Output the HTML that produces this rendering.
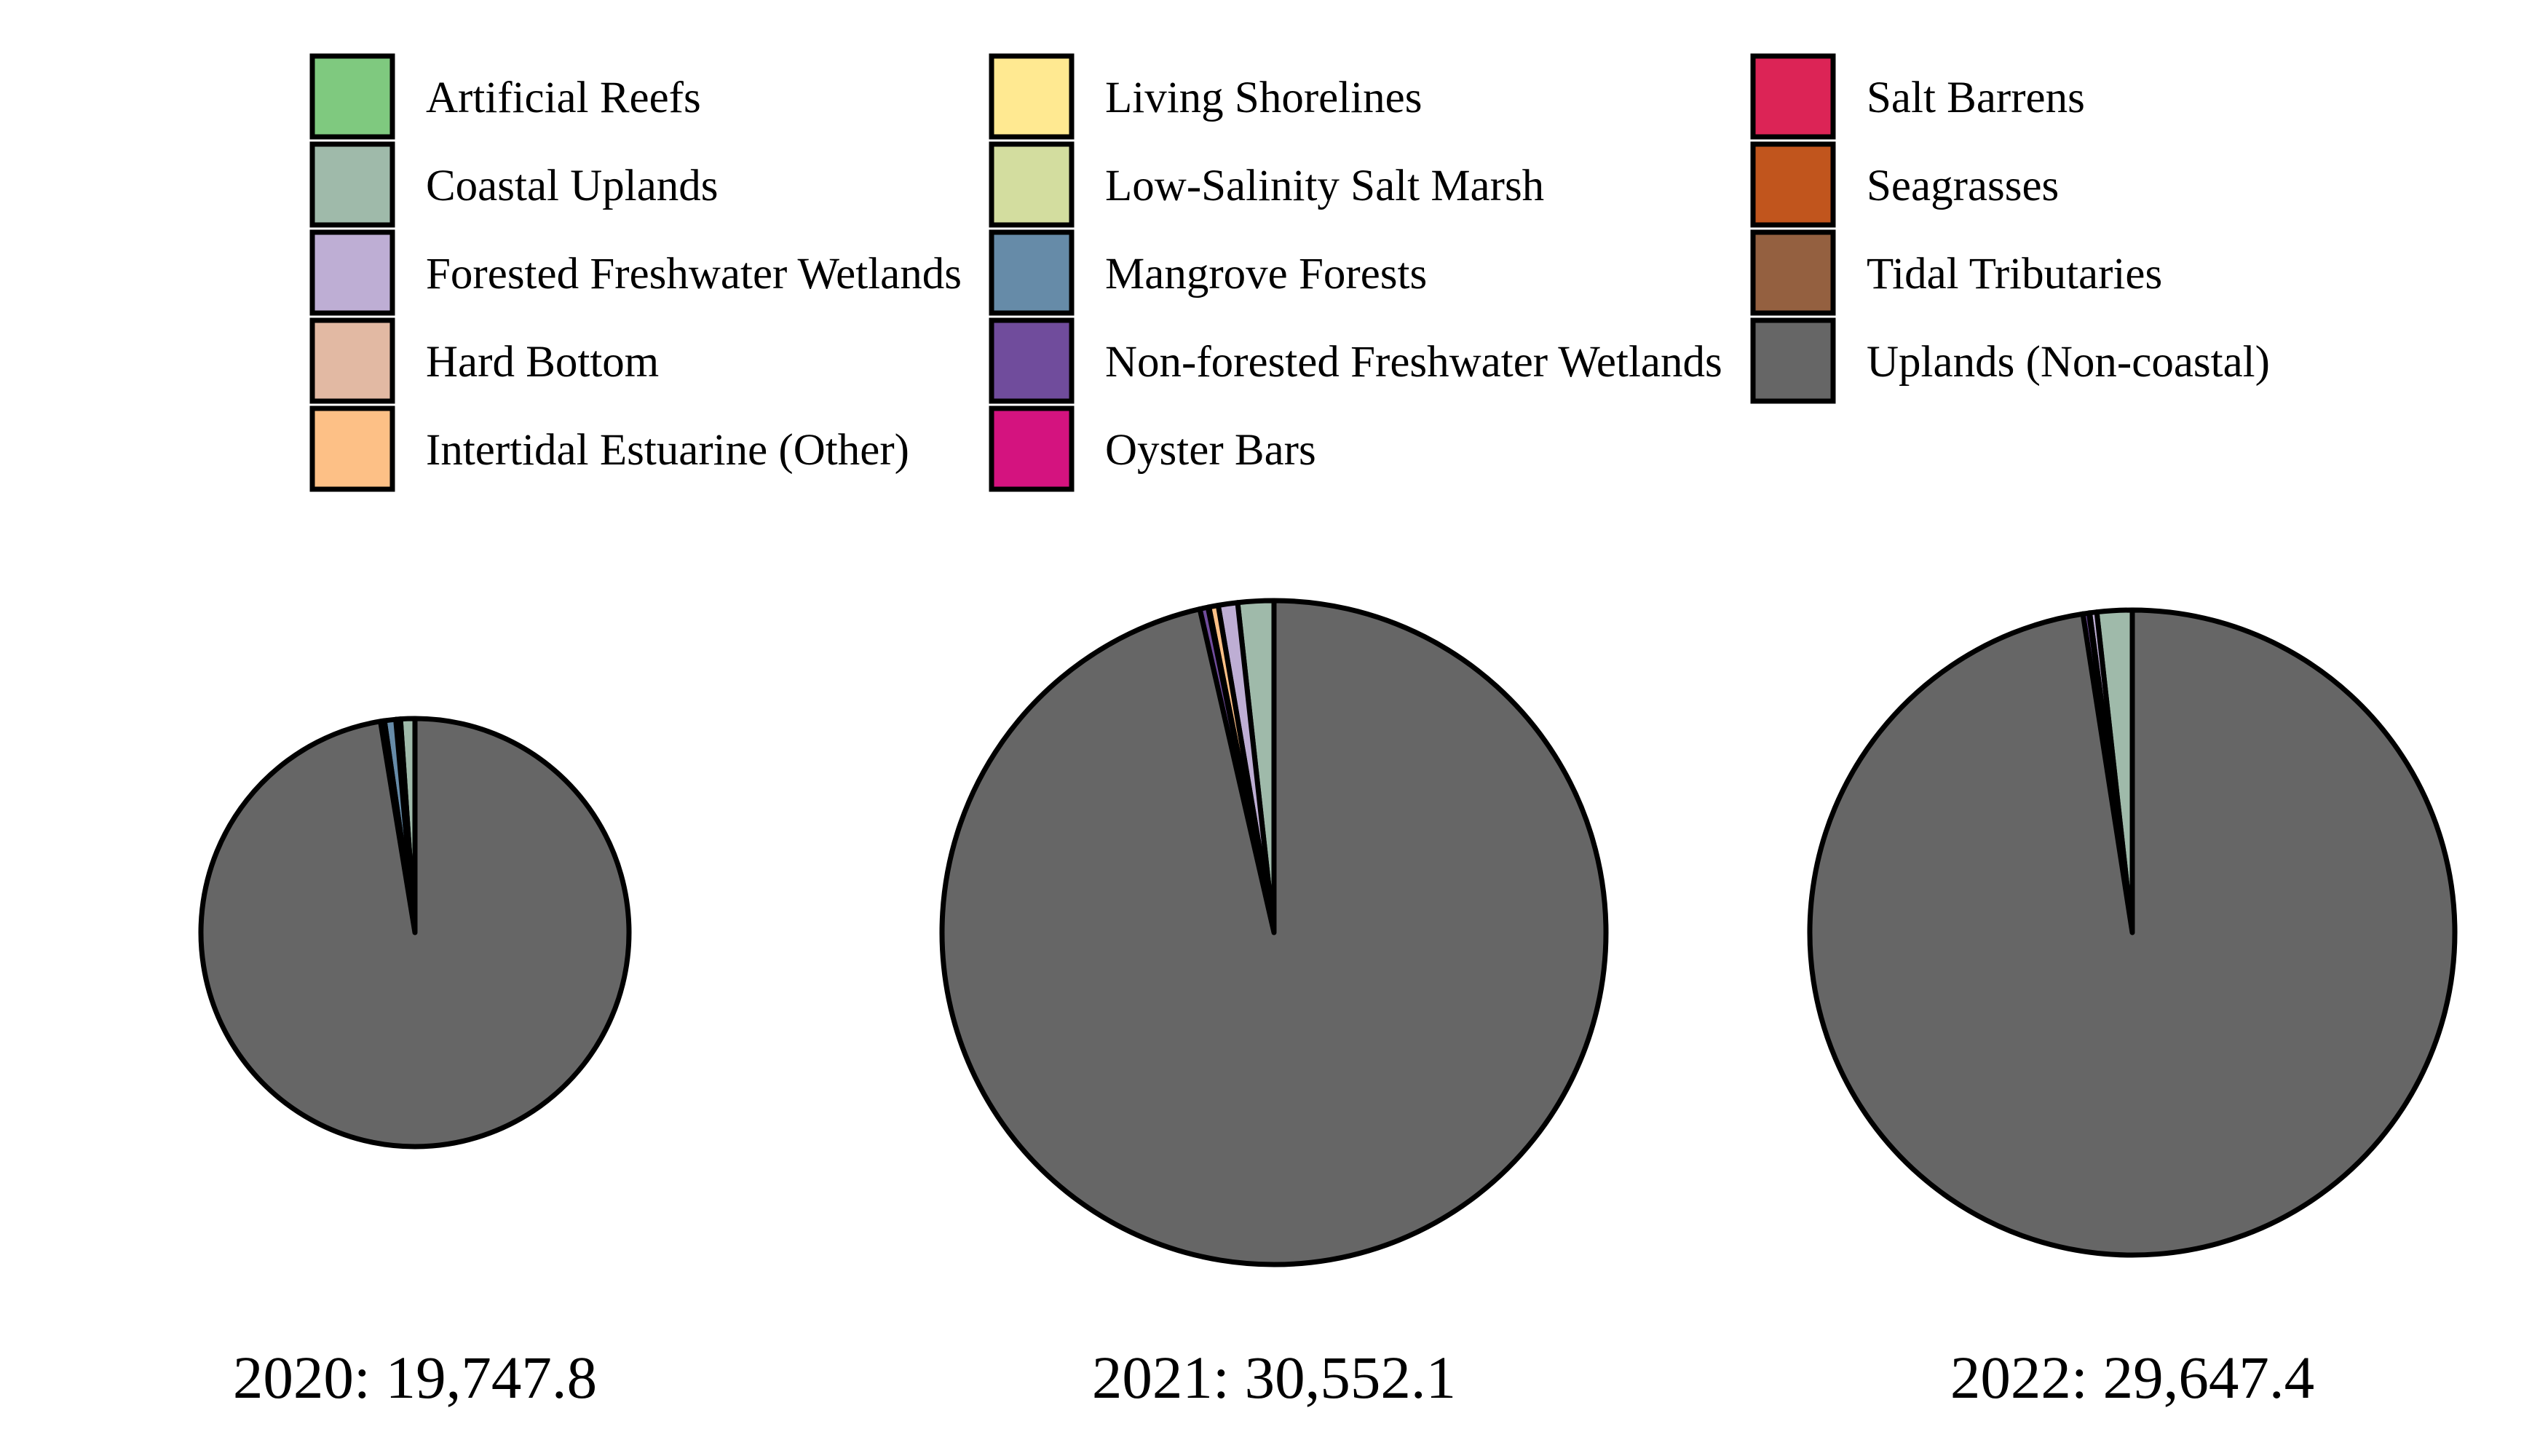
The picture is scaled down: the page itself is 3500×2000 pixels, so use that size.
<!DOCTYPE html>
<html><head><meta charset="utf-8"><style>
html,body{margin:0;padding:0;background:#fff;}
svg{display:block;font-family:"Liberation Serif","Times New Roman",serif;}
</style></head><body>
<svg id="chart" width="3500" height="2000" viewBox="0 0 3500 2000" xmlns="http://www.w3.org/2000/svg">
<g id="legend"></g>
<g id="pies"></g>
</svg>
<script>
const categories = ["Artificial Reefs","Coastal Uplands","Forested Freshwater Wetlands","Hard Bottom","Intertidal Estuarine (Other)","Living Shorelines","Low-Salinity Salt Marsh","Mangrove Forests","Non-forested Freshwater Wetlands","Oyster Bars","Salt Barrens","Seagrasses","Tidal Tributaries","Uplands (Non-coastal)"];
const colors = ["#7fc97f","#9fbaaa","#beaed4","#e2b9a3","#fdc086","#ffe991","#d3dd9f","#668ba8","#704c9c","#d4137f","#dc2456","#c1551d","#946040","#666666"];
const years = ["2020","2021","2022"];
const totals = ["19,747.8","30,552.1","29,647.4"];
// percent shares per category, per year
const share2020 = [0,1.08,0.3,0,0.05,0,0,0.85,0.3,0,0,0,0,97.42];
const share2021 = [0,1.75,0.94,0,0.45,0,0,0.05,0.4,0,0,0,0,96.41];
const share2022 = [0,1.76,0.35,0,0.02,0,0,0.02,0.3,0,0,0,0,97.55];
const shares = [share2020, share2021, share2022];

const NS = "http://www.w3.org/2000/svg";
function mk(tag, attrs, parent){const e=document.createElementNS(NS,tag);for(const k in attrs)e.setAttribute(k,attrs[k]);parent.appendChild(e);return e;}

const legend = document.getElementById('legend');
const colX = [426, 1359, 2405];
const perCol = [5,5,4];
let idx = 0;
for (let c=0;c<3;c++){
  for (let r=0;r<perCol[c];r++){
    const i = idx++;
    const g = mk('g',{},legend);
    
    
    const y = 77 + r*121;
    const rect = mk('rect',{x:colX[c]+3,y:y,width:110,height:111,fill:colors[i],stroke:'#000','stroke-width':7},g);
    
    
    const t = mk('text',{x:colX[c]+159,y:y+77,'font-size':61,fill:'#000'},g);
    t.textContent = categories[i];
    
    
  }
}

const pies = document.getElementById('pies');
const centerX = [570, 1750, 2929];
const centerY = 1281;
const radii = [294, 456, 443];
for (let p=0;p<3;p++){
  const g = mk('g',{},pies);
  
  
  const cx = centerX[p], cy = centerY, r = radii[p];
  const vals = shares[p];
  const sum = vals.reduce((a,b)=>a+b,0);
  let a0 = 0;
  for (let i=0;i<vals.length;i++){
    if (vals[i] <= 0) continue;
    const a1 = a0 + vals[i]/sum*2*Math.PI;
    const x0 = cx - r*Math.sin(a0), y0 = cy - r*Math.cos(a0);
    const x1 = cx - r*Math.sin(a1), y1 = cy - r*Math.cos(a1);
    const large = (a1-a0) > Math.PI ? 1 : 0;
    const path = mk('path',{d:`M${cx},${cy} L${x0},${y0} A${r},${r} 0 ${large} 0 ${x1},${y1} Z`,fill:colors[i],stroke:'#000','stroke-width':7,'stroke-linejoin':'round'},g);
    
    
    a0 = a1;
  }
  const t = mk('text',{x:cx,y:1920,'text-anchor':'middle','font-size':83,fill:'#000'},g);
  t.textContent = years[p] + ': ' + totals[p];
  
  
}
</script>
</body></html>
